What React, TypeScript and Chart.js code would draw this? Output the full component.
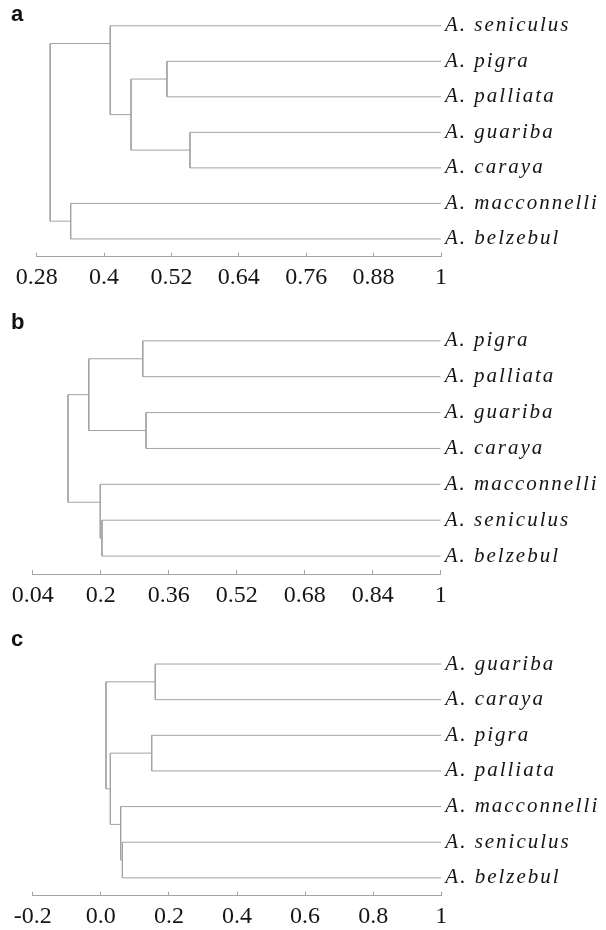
import React, { useEffect, useRef } from "react";
import { Chart, registerables } from "chart.js";

Chart.register(...registerables);

// ---------- Data ----------
// Panel a
const aLeaves = ["A. seniculus", "A. pigra", "A. palliata", "A. guariba", "A. caraya", "A. macconnelli", "A. belzebul"];
const aHeights = [0.512, 0.553, 0.448, 0.411, 0.3405, 0.304];
const aChildA = ["L1", "L3", "N0", "L0", "L5", "N3"];
const aChildB = ["L2", "L4", "N1", "N2", "L6", "N4"];
const aJoinY = [1.5, 3.5, 2.5, 0.5, 5.5, 3];
const aTicks = [0.28, 0.4, 0.52, 0.64, 0.76, 0.88, 1];
const aTickLabels = ["0.28", "0.4", "0.52", "0.64", "0.76", "0.88", "1"];

// Panel b
const bLeaves = ["A. pigra", "A. palliata", "A. guariba", "A. caraya", "A. macconnelli", "A. seniculus", "A. belzebul"];
const bHeights = [0.299, 0.3066, 0.172, 0.203, 0.199, 0.123];
const bChildA = ["L0", "L2", "N0", "L5", "L4", "N2"];
const bChildB = ["L1", "L3", "N1", "L6", "N3", "N4"];
const bJoinY = [0.5, 2.5, 1.5, 5.5, 4.5, 3];
const bTicks = [0.04, 0.2, 0.36, 0.52, 0.68, 0.84, 1];
const bTickLabels = ["0.04", "0.2", "0.36", "0.52", "0.68", "0.84", "1"];

// Panel c
const cLeaves = ["A. guariba", "A. caraya", "A. pigra", "A. palliata", "A. macconnelli", "A. seniculus", "A. belzebul"];
const cHeights = [0.16, 0.1495, 0.0634, 0.0584, 0.028, 0.0153];
const cChildA = ["L0", "L2", "L5", "L4", "N1", "N0"];
const cChildB = ["L1", "L3", "L6", "N2", "N3", "N4"];
const cJoinY = [0.5, 2.5, 5.5, 4.5, 3.5, 2];
const cTicks = [-0.2, 0, 0.2, 0.4, 0.6, 0.8, 1];
const cTickLabels = ["-0.2", "0.0", "0.2", "0.4", "0.6", "0.8", "1"];

// ---------- Layout / style ----------
const LINE = "#a3a3a3";
const TEXT = "#151515";
const PAGE_W = 606;
const SERIF = "'Liberation Serif', 'Times New Roman', Times, serif";
const SANS = "'Liberation Sans', Arial, sans-serif";

type Layout = {
  top: number;
  height: number;
  areaTop: number;
  areaBottom: number;
  left: number;
  right: number;
  letterBaseline: number;
};

const layoutA: Layout = { top: 0, height: 300, areaTop: 8, areaBottom: 256.7, left: 36.7, right: 441, letterBaseline: 20.7 };
const layoutB: Layout = { top: 300, height: 317, areaTop: 322.9, areaBottom: 574, left: 32.7, right: 440.7, letterBaseline: 329 };
const layoutC: Layout = { top: 617, height: 313, areaTop: 646.2, areaBottom: 895.7, left: 32.7, right: 441.3, letterBaseline: 645.7 };

type PanelProps = {
  letter: string;
  leaves: string[];
  heights: number[];
  childA: string[];
  childB: string[];
  joinY: number[];
  ticks: number[];
  tickLabels: string[];
  layout: Layout;
};

function Dendrogram(p: PanelProps) {
  const ref = useRef<HTMLCanvasElement | null>(null);

  useEffect(() => {
    const canvas = ref.current;
    if (!canvas) return;
    const L = p.layout;
    const xMax = p.ticks[p.ticks.length - 1];
    const pos = (r: string) => {
      const n = parseInt(r.slice(1), 10);
      return r[0] === "L" ? { x: xMax, y: n } : { x: p.heights[n], y: p.joinY[n] };
    };
    const datasets = p.heights.map((h, k) => {
      const a = pos(p.childA[k]);
      const b = pos(p.childB[k]);
      return {
        data: [
          { x: a.x, y: a.y },
          { x: h, y: a.y },
          { x: h, y: b.y },
          { x: b.x, y: b.y },
        ],
        showLine: true,
        borderColor: LINE,
        borderWidth: 1,
        pointRadius: 0,
        tension: 0,
        fill: false,
      };
    });

    const padTop = L.areaTop - L.top;
    const axisH = L.top + L.height - L.areaBottom;
    const yAxisW = PAGE_W - L.right;

    const letterPlugin = {
      id: "panelLetter",
      afterDatasetsDraw(chart: any) {
        chart.ctx.letterSpacing = "2px";
      },
      afterDraw(chart: any) {
        const ctx = chart.ctx;
        ctx.letterSpacing = "0px";
        ctx.save();
        ctx.font = "bold 22px " + SANS;
        ctx.fillStyle = "#111";
        ctx.textBaseline = "alphabetic";
        ctx.textAlign = "left";
        ctx.fillText(p.letter, 11, L.letterBaseline - L.top);
        ctx.restore();
      },
    };

    const chart = new Chart(canvas, {
      type: "scatter",
      data: { datasets },
      options: {
        responsive: false,
        animation: false,
        devicePixelRatio: 1,
        layout: { padding: { top: padTop, left: L.left, right: 0, bottom: 0 } },
        plugins: { legend: { display: false }, tooltip: { enabled: false }, title: { display: false } },
        events: [],
        scales: {
          x: {
            type: "linear",
            position: "bottom",
            min: p.ticks[0],
            max: xMax,
            afterBuildTicks: (s: any) => {
              s.ticks = p.ticks.map((v) => ({ value: v }));
            },
            afterFit: (s: any) => {
              s.height = axisH;
              s.paddingLeft = 0;
              s.paddingRight = 0;
            },
            ticks: {
              callback: (_v: any, i: number) => p.tickLabels[i],
              font: { family: SERIF, size: 24 },
              color: TEXT,
              padding: 11,
              maxRotation: 0,
              autoSkip: false,
            },
            grid: { drawOnChartArea: false, drawTicks: true, tickLength: -4, color: LINE, lineWidth: 1 },
            border: { display: true, color: LINE, width: 1 },
          },
          y: {
            type: "linear",
            position: "right",
            reverse: true,
            min: -0.5,
            max: 6.5,
            afterBuildTicks: (s: any) => {
              s.ticks = p.leaves.map((_l, i) => ({ value: i }));
            },
            afterFit: (s: any) => {
              s.width = yAxisW;
              s.paddingTop = 0;
              s.paddingBottom = 0;
            },
            ticks: {
              callback: (v: any) => p.leaves[Math.round(Number(v))],
              font: { family: SERIF, size: 21, style: "italic" },
              color: TEXT,
              padding: 4,
              z: 1,
              autoSkip: false,
            },
            grid: { display: false, drawTicks: false, tickLength: 0 },
            border: { display: false },
          },
        },
      },
      plugins: [letterPlugin],
    } as any);

    let alive = true;
    const fonts: any = (document as any).fonts;
    if (fonts && fonts.load) {
      Promise.all([
        fonts.load("24px " + SERIF),
        fonts.load("italic 21px " + SERIF),
        fonts.load("bold 22px " + SANS),
      ])
        .catch(() => null)
        .then(() => {
          if (alive) chart.update();
        });
    }

    return () => {
      alive = false;
      chart.destroy();
    };
  }, []);

  return (
    <canvas
      ref={ref}
      width={PAGE_W}
      height={p.layout.height}
      style={{ position: "absolute", left: 0, top: p.layout.top, width: PAGE_W, height: p.layout.height, display: "block" }}
    />
  );
}

export default function App() {
  return (
    <div style={{ position: "relative", width: PAGE_W, height: 930, background: "#fff" }}>
      <style>{`html,body{margin:0;padding:0;background:#fff;}`}</style>
      <div style={{ position: "absolute", left: 0, top: 0, opacity: 0, pointerEvents: "none", fontFamily: SERIF }}>
        <span style={{ fontStyle: "italic" }}>A. seniculus</span>
        <span>0.28</span>
        <span style={{ fontFamily: SANS, fontWeight: 700 }}>abc</span>
      </div>
      <Dendrogram letter="a" leaves={aLeaves} heights={aHeights} childA={aChildA} childB={aChildB} joinY={aJoinY} ticks={aTicks} tickLabels={aTickLabels} layout={layoutA} />
      <Dendrogram letter="b" leaves={bLeaves} heights={bHeights} childA={bChildA} childB={bChildB} joinY={bJoinY} ticks={bTicks} tickLabels={bTickLabels} layout={layoutB} />
      <Dendrogram letter="c" leaves={cLeaves} heights={cHeights} childA={cChildA} childB={cChildB} joinY={cJoinY} ticks={cTicks} tickLabels={cTickLabels} layout={layoutC} />
    </div>
  );
}
